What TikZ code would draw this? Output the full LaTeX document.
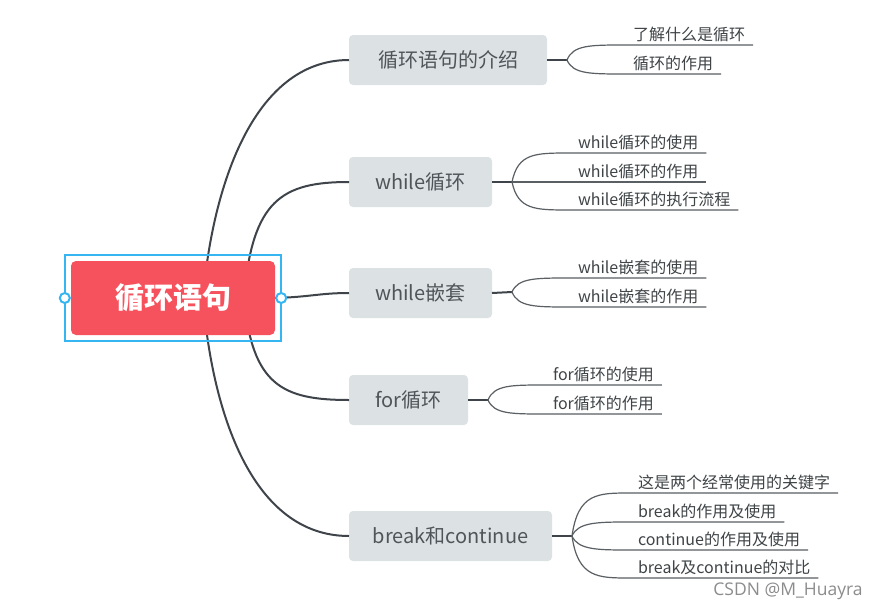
\documentclass[tikz,border=0pt]{standalone}
\usepackage{fontspec}
\newfontfamily\cjk{Noto Sans CJK SC}
\newfontfamily\wmfont{Open Sans}
\usetikzlibrary{calc}
\definecolor{rootred}{HTML}{F5525E}
\definecolor{selblue}{HTML}{35B6F2}
\definecolor{brfill}{HTML}{DCE2E4}
\definecolor{brtext}{HTML}{4F5558}
\definecolor{conn}{HTML}{3E444A}
\definecolor{leafline}{HTML}{5A5F63}
\definecolor{leaftext}{HTML}{3F4447}
\begin{document}
\begin{tikzpicture}[x=1pt,y=-1pt,
  branch/.style={fill=brfill, rounded corners=4pt, minimum height=50pt, anchor=west,
    font=\cjk\fontsize{20}{24}\selectfont, text=brtext, inner sep=0pt, outer sep=0pt},
  leaf/.style={anchor=south west, font=\cjk\fontsize{16}{19}\selectfont, text=leaftext,
    inner xsep=8pt, inner ysep=5pt, text depth=0pt, outer sep=0pt},
  mainline/.style={draw=conn, line width=2pt},
  leafline/.style={draw=leafline, line width=1.2pt},
  rootbox/.style={fill=rootred, rounded corners=5pt, minimum width=204pt, minimum height=74pt,
    font=\cjk\bfseries\fontsize{29}{34}\selectfont, text=white, inner sep=0pt}
]
\useasboundingbox (0,0) rectangle (884,613);
\fill[white] (0,0) rectangle (884,613);

% branch nodes
\node[branch, minimum width=198pt] (b1) at (349,60) {循环语句的介绍};
\node[branch, minimum width=143pt] (b2) at (349,182) {while循环};
\node[branch, minimum width=143pt] (b3) at (349,293) {while嵌套};
\node[branch, minimum width=119pt] (b4) at (349,400) {for循环};
\node[branch, minimum width=203pt] (b5) at (349,536) {break和continue};

% root connection points (hidden under root)
\coordinate (r1) at (203,298);
\coordinate (r2) at (244,298);
\coordinate (r3) at (275,298);

\draw[mainline] (r1) .. controls (212,190) and (252,60) .. (b1.west);
\draw[mainline] (r2) .. controls (252,200) and (282,182) .. (b2.west);
\draw[mainline] (r3) .. controls (310,297) and (320,293) .. (b3.west);
\draw[mainline] (r2) .. controls (252,385) and (282,400) .. (b4.west);
\draw[mainline] (r1) .. controls (212,412) and (252,536) .. (b5.west);

% root
\node[rootbox] (root) at (173,298) {循环语句};
\draw[selblue, line width=2pt] ($(root.north west)+(-6,-6)$) rectangle ($(root.south east)+(6,6)$);
\draw[selblue, line width=2pt, fill=white] ($(root.west)+(-6,0)$) circle (5pt);
\draw[selblue, line width=2pt, fill=white] ($(root.east)+(6,0)$) circle (5pt);

% split points
\coordinate (s1) at (567,60);
\coordinate (s2) at (512,182);
\coordinate (s3) at (512,292);
\coordinate (s4) at (488,400);
\coordinate (s5) at (572,536);

\draw[mainline] (b1.east) -- (s1);
\draw[mainline] (b2.east) -- (s2);
\draw[mainline] (b3.east) -- (s3);
\draw[mainline] (b4.east) -- (s4);
\draw[mainline] (b5.east) -- (s5);

% leaves B1
\node[leaf] (l11) at (625,45) {了解什么是循环};
\node[leaf] (l12) at (625,74) {循环的作用};
\draw[leafline] (s1) .. controls (573,45) and (590,45) .. (l11.south west) -- (l11.south east);
\draw[leafline] (s1) .. controls (573,74) and (590,74) .. (l12.south west) -- (l12.south east);

% leaves B2
\node[leaf] (l21) at (570,153) {while循环的使用};
\node[leaf] (l22) at (570,182) {while循环的作用};
\node[leaf] (l23) at (570,210) {while循环的执行流程};
\draw[leafline] (s2) .. controls (518,153) and (535,153) .. (l21.south west) -- (l21.south east);
\draw[leafline] (s2) -- (l22.south west) -- (l22.south east);
\draw[leafline] (s2) .. controls (518,210) and (535,210) .. (l23.south west) -- (l23.south east);

% leaves B3
\node[leaf] (l31) at (570,278) {while嵌套的使用};
\node[leaf] (l32) at (570,307) {while嵌套的作用};
\draw[leafline] (s3) .. controls (518,278) and (535,278) .. (l31.south west) -- (l31.south east);
\draw[leafline] (s3) .. controls (518,307) and (535,307) .. (l32.south west) -- (l32.south east);

% leaves B4
\node[leaf] (l41) at (545,385) {for循环的使用};
\node[leaf] (l42) at (545,414) {for循环的作用};
\draw[leafline] (s4) .. controls (494,385) and (511,385) .. (l41.south west) -- (l41.south east);
\draw[leafline] (s4) .. controls (494,414) and (511,414) .. (l42.south west) -- (l42.south east);

% leaves B5
\node[leaf] (l51) at (630,493) {这是两个经常使用的关键字};
\node[leaf] (l52) at (630,522) {break的作用及使用};
\node[leaf] (l53) at (630,550) {continue的作用及使用};
\node[leaf] (l54) at (630,578) {break及continue的对比};
\draw[leafline] (s5) .. controls (578,493) and (598,493) .. (l51.south west) -- (l51.south east);
\draw[leafline] (s5) .. controls (578,522) and (598,522) .. (l52.south west) -- (l52.south east);
\draw[leafline] (s5) .. controls (578,550) and (598,550) .. (l53.south west) -- (l53.south east);
\draw[leafline] (s5) .. controls (578,578) and (598,578) .. (l54.south west) -- (l54.south east);

% watermark
\node[font=\wmfont\fontsize{17.5}{21}\selectfont, text=black!45, anchor=center] (wm) at (788,591) {CSDN @M\_Huayra};
\end{tikzpicture}
\end{document}
